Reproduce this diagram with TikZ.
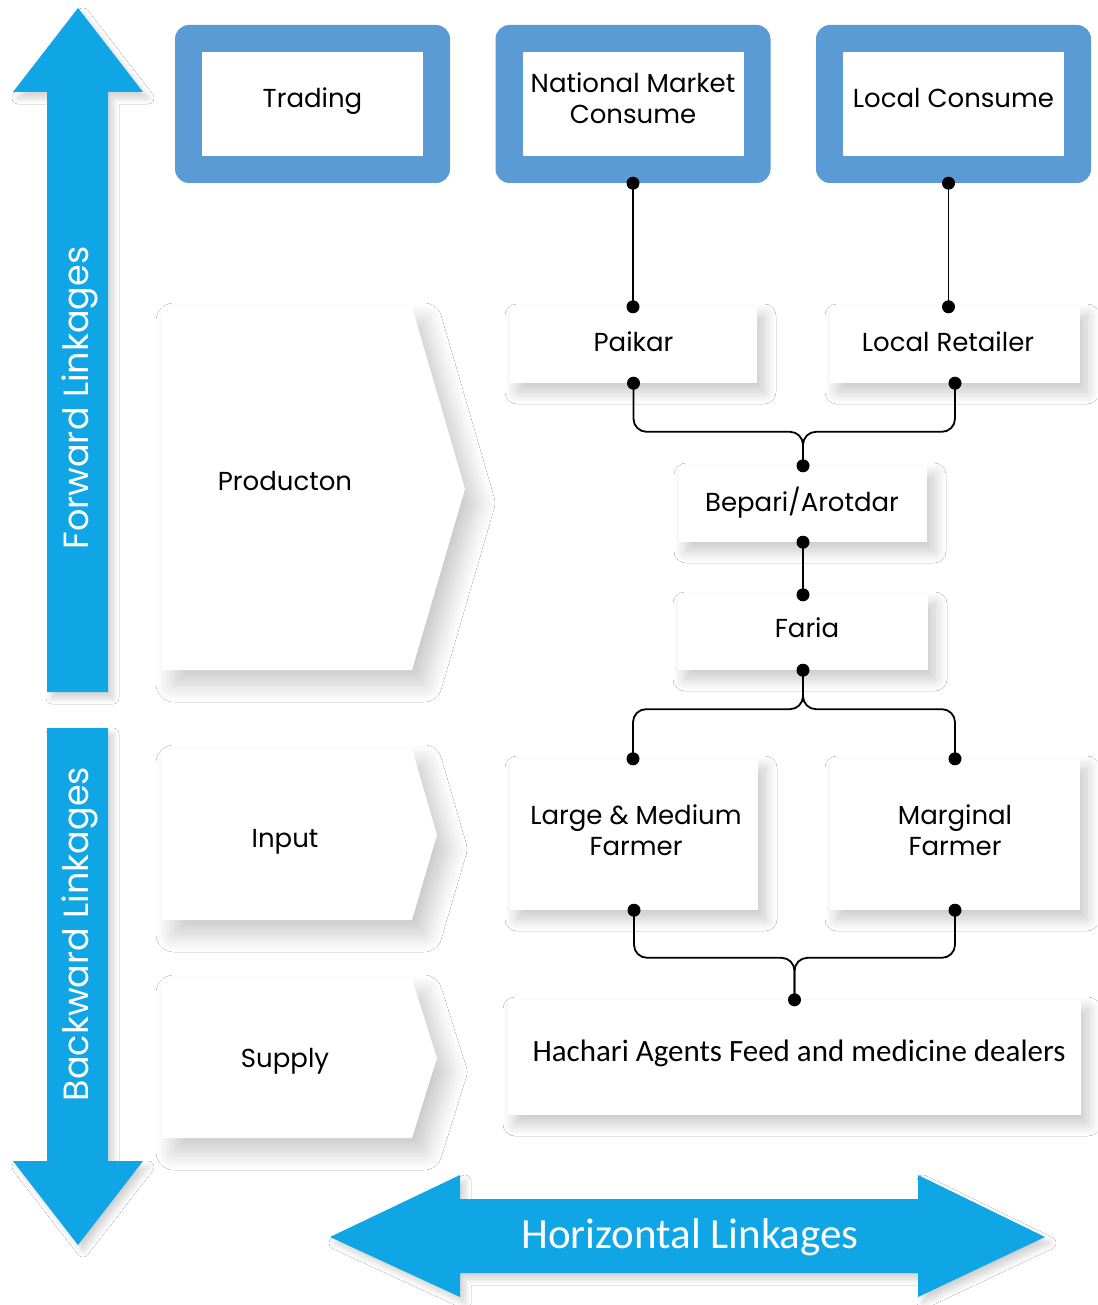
\documentclass[tikz,border=0pt]{standalone}
\usepackage{fontspec}
\setmainfont{Poppins}
\newfontfamily\carl{Carlito}
\usetikzlibrary{shadows.blur,calc}
\definecolor{arrowblue}{RGB}{16,166,230}
\definecolor{frameblue}{RGB}{91,155,213}
\begin{document}
\begin{tikzpicture}[x=1pt,y=-1pt,
  softshadow/.style={blur shadow={shadow xshift=7pt,shadow yshift=-9pt,shadow blur radius=12pt,shadow blur steps=14,shadow opacity=22}},
  bigshadow/.style={blur shadow={shadow xshift=12pt,shadow yshift=-14pt,shadow blur radius=18pt,shadow blur steps=16,shadow opacity=22}},
  arrshadow/.style={blur shadow={shadow xshift=5pt,shadow yshift=-6pt,shadow blur radius=6pt,shadow blur steps=10,shadow opacity=18}},
  lbl/.style={font=\fontsize{26}{31}\selectfont, align=center, text=black},
  wbox/.style={fill=white, inner sep=0pt, softshadow, lbl},
  frame/.style={fill=frameblue, rounded corners=14pt, inner sep=0pt, minimum width=275pt, minimum height=158pt},
  inner/.style={fill=white, inner sep=0pt, minimum width=221pt, minimum height=104pt},
  conn/.style={line width=1.8pt, rounded corners=13pt},
  dotmark/.style={fill=black},
  band/.style={fill=arrowblue, arrshadow},
  chev/.style={fill=white, bigshadow}
]
\useasboundingbox (0,0) rectangle (1097,1305);
\fill[white] (0,0) rectangle (1097,1305);

% --- blue arrows ---
\path[band] (78,8) -- (143,92) -- (108,92) -- (108,692) -- (47,692) -- (47,92) -- (13,92) -- cycle;
\path[band] (47,728) -- (108,728) -- (108,1161) -- (143,1161) -- (78,1245) -- (13,1161) -- (47,1161) -- cycle;
\path[band] (330,1237) -- (460,1175) -- (460,1199) -- (918,1199) -- (918,1175) -- (1045,1237) -- (918,1297) -- (918,1273) -- (460,1273) -- (460,1297) -- cycle;
\node[rotate=90, text=white, font=\fontsize{35}{40}\selectfont] (fwd) at (80,398) {Forward Linkages};
\node[rotate=90, text=white, font=\fontsize{35}{40}\selectfont] (bwd) at (80,934) {Backward Linkages};
\node[text=white, font=\carl\fontsize{43}{48}\selectfont] (hor) at (690,1237) {Horizontal Linkages};

% --- chevrons ---
\path[chev] (162,307) -- (412,307) -- (465,489) -- (412,670) -- (162,670) -- cycle;
\node[lbl] (prod) at (285,481) {Producton};
\path[chev] (162,749) -- (412,749) -- (437,835) -- (412,920) -- (162,920) -- cycle;
\node[lbl] (inp) at (285,842) {Input};
\path[chev] (162,979) -- (412,979) -- (437,1058) -- (412,1138) -- (162,1138) -- cycle;
\node[lbl] (sup) at (285,1061) {Supply};

% --- top framed boxes ---
\node[frame] (trF) at (312.5,104) {};
\node[inner] (tr) at (312.5,104) {};
\node[lbl] (trt) at (312.5,101) {Trading};
\node[frame] (nmF) at (633,104) {};
\node[inner] (nm) at (633,104) {};
\node[lbl] (nmt) at (633,98) {National Market\\Consume};
\node[frame] (lcF) at (953.5,104) {};
\node[inner] (lc) at (953.5,104) {};
\node[lbl] (lct) at (953.5,98) {Local Consume};

% --- white boxes ---
\node[wbox, minimum width=247pt, minimum height=76pt] (pk) at (633.5,345) {};
\node[lbl] (pkt) at (633.5,342) {Paikar};
\node[wbox, minimum width=250pt, minimum height=76pt] (lr) at (955,345) {};
\node[lbl] (lrt) at (948,342) {Local Retailer};
\node[wbox, minimum width=248pt, minimum height=76pt] (bp) at (803,504) {};
\node[lbl] (bpt) at (802,503) {Bepari/Arotdar};
\node[wbox, minimum width=250pt, minimum height=75pt] (fa) at (803,632.5) {};
\node[lbl] (fat) at (807,628) {Faria};
\node[wbox, minimum width=248pt, minimum height=151pt] (lm) at (634,834.5) {};
\node[lbl] (lmt) at (636,830) {Large \& Medium\\Farmer};
\node[wbox, minimum width=250pt, minimum height=151pt] (mf) at (955,834.5) {};
\node[lbl] (mft) at (955,830) {Marginal\\Farmer};
\node[wbox, minimum width=573pt, minimum height=115pt] (hc) at (794.5,1057.5) {};
\node[font=\carl\fontsize{31}{36}\selectfont] (hct) at (799,1053) {Hachari Agents Feed and medicine dealers};

% --- connector anchor points ---
\coordinate (lcS) at ($(lcF.south)+(-5,0)$);
\coordinate (lrN) at (lcS |- lr.north);
\coordinate (pkN) at (nmF.south |- pk.north);
\coordinate (bpJ) at ($(bp.north)+(0,-34)$);
\coordinate (faJ) at ($(fa.south)+(0,39)$);
\coordinate (lmN) at ($(lm.north)+(-1,0)$);
\coordinate (hcJ) at ($(hc.north)+(0,-42)$);

% --- connectors ---
\draw[conn] (nmF.south) -- (pkN);
\draw[conn] (lcS) -- (lrN);
\draw[conn] (pk.south) |- (bpJ) -- (bp.north);
\draw[conn] (lr.south) |- (bpJ) -- (bp.north);
\draw[conn] (bp.south) -- (fa.north);
\draw[conn] (fa.south) -- (faJ) -| (lmN);
\draw[conn] (fa.south) -- (faJ) -| (mf.north);
\draw[conn] (lm.south) |- (hcJ) -- (hc.north);
\draw[conn] (mf.south) |- (hcJ) -- (hc.north);
\foreach \p in {nmF.south, lcS, pkN, lrN, pk.south, lr.south, bp.north, bp.south, fa.north, fa.south, lmN, mf.north, lm.south, mf.south, hc.north}
  \fill[dotmark] (\p) circle (6.5);
\end{tikzpicture}
\end{document}
